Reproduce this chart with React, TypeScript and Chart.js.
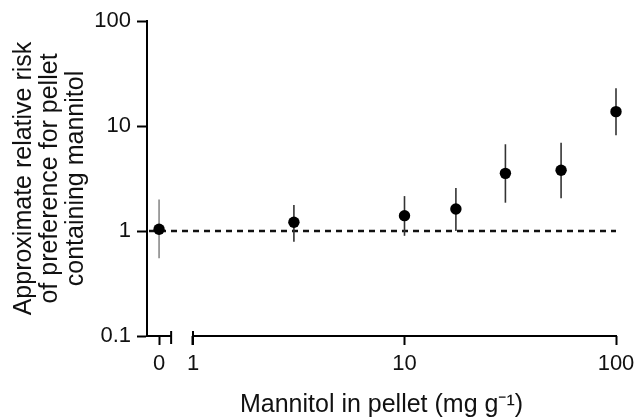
import React, { useEffect, useRef } from "react";
import { Chart, registerables } from "chart.js";

Chart.register(...registerables);

// ---- data ----
const ZERO_DOSE = [0];
const ZERO_RR = [1.04];
const ZERO_LOW = [0.55];
const ZERO_HIGH = [2.0];

const DOSES = [3, 10, 17.5, 30, 55, 100];
const RR = [1.21, 1.4, 1.62, 3.54, 3.79, 13.7];
const RR_LOW = [0.79, 0.9, 1.0, 1.86, 2.05, 8.15];
const RR_HIGH = [1.77, 2.15, 2.57, 6.7, 6.93, 22.9];

const Y_TICKS = [0.1, 1, 10, 100];
const X_TICKS = [1, 10, 100];
const X0_TICKS = [0];
const X0_SEGMENT_END = 1;
const REFERENCE_RR = 1;

const Y_TITLE = ["Approximate relative risk", "of preference for pellet", "containing mannitol"];
const X_TITLE = "Mannitol in pellet (mg g\u207B\u00B9)";

const FONT = "'Liberation Sans', Arial, Helvetica, sans-serif";
const INK = "#111";

const brokenAxisPlugin = {
  id: "brokenAxis",
  beforeDatasetsDraw(chart: any) {
    const { ctx, chartArea, scales } = chart;
    const x0 = scales.x0;
    const x = scales.x;
    const y = scales.y;
    const yb = chartArea.bottom;
    ctx.save();
    // reference dashed line at RR = 1
    const yr = y.getPixelForValue(REFERENCE_RR);
    ctx.strokeStyle = INK;
    ctx.lineWidth = 2.5;
    ctx.setLineDash([6, 5]);
    ctx.beginPath();
    ctx.moveTo(chartArea.left + 2, yr);
    ctx.lineTo(x.getPixelForValue(X_TICKS[X_TICKS.length - 1]), yr);
    ctx.stroke();
    ctx.setLineDash([]);

    // error bars
    ctx.lineWidth = 1.6;
    ctx.strokeStyle = "#8a8a8a";
    ZERO_DOSE.forEach((d, i) => {
      const px = x0.getPixelForValue(d);
      ctx.beginPath();
      ctx.moveTo(px, y.getPixelForValue(ZERO_LOW[i]));
      ctx.lineTo(px, y.getPixelForValue(ZERO_HIGH[i]));
      ctx.stroke();
    });
    ctx.strokeStyle = "#333";
    DOSES.forEach((d, i) => {
      const px = x.getPixelForValue(d);
      ctx.beginPath();
      ctx.moveTo(px, y.getPixelForValue(RR_LOW[i]));
      ctx.lineTo(px, y.getPixelForValue(RR_HIGH[i]));
      ctx.stroke();
    });

    // broken x axis segments
    ctx.strokeStyle = "#000";
    ctx.lineWidth = 2;
    const aEnd = x0.getPixelForValue(X0_SEGMENT_END);
    const bStart = x.getPixelForValue(X_TICKS[0]);
    const bEnd = x.getPixelForValue(X_TICKS[X_TICKS.length - 1]);
    ctx.beginPath();
    ctx.moveTo(chartArea.left, yb);
    ctx.lineTo(aEnd, yb);
    ctx.moveTo(aEnd, yb - 5);
    ctx.lineTo(aEnd, yb + 8);
    ctx.moveTo(bStart, yb);
    ctx.lineTo(bEnd + 1, yb);
    ctx.moveTo(bStart, yb - 5);
    ctx.lineTo(bStart, yb + 9);
    ctx.stroke();
    ctx.restore();
  },
};

const noSidePadding = (s: any) => {
  s.paddingLeft = 0;
  s.paddingRight = 0;
};

export default function App() {
  const ref = useRef<HTMLCanvasElement | null>(null);

  useEffect(() => {
    if (!ref.current) return;
    const tickFont = { family: FONT, size: 22 };
    const yTitleFont = { family: FONT, size: 25, lineHeight: 1.04 };
    const xTitleFont = { family: FONT, size: 25, lineHeight: 1.2 };
    const chart = new Chart(ref.current, {
      type: "scatter",
      data: {
        datasets: [
          {
            data: ZERO_DOSE.map((d, i) => ({ x: d, y: ZERO_RR[i] })),
            xAxisID: "x0",
            yAxisID: "y",
            backgroundColor: "#000",
            borderWidth: 0,
            pointRadius: 5.7,
            clip: false,
          } as any,
          {
            data: DOSES.map((d, i) => ({ x: d, y: RR[i] })),
            xAxisID: "x",
            yAxisID: "y",
            backgroundColor: "#000",
            borderWidth: 0,
            pointRadius: 5.7,
            clip: false,
          } as any,
        ],
      },
      options: {
        responsive: false,
        animation: false,
        devicePixelRatio: 1,
        layout: { padding: { top: 21, right: 20, left: 0, bottom: 0 } },
        plugins: { legend: { display: false }, tooltip: { enabled: false } },
        scales: {
          y: {
            type: "logarithmic",
            position: "left",
            min: 0.1,
            max: 100,
            afterBuildTicks: (s: any) => {
              s.ticks = Y_TICKS.map((v) => ({ value: v }));
            },
            afterFit: (s: any) => {
              s.width = 147;
              s.paddingTop = 0;
              s.paddingBottom = 0;
            },
            ticks: {
              font: tickFont,
              color: INK,
              padding: 6,
              callback: (v: any) => String(v),
            },
            grid: {
              drawOnChartArea: false,
              drawTicks: true,
              tickLength: 10,
              tickWidth: 2,
              tickColor: "#000",
            },
            border: { display: true, color: "#000", width: 2 },
            title: {
              display: true,
              text: Y_TITLE,
              font: yTitleFont,
              color: INK,
              padding: { top: 11, bottom: 0 },
            },
          },
          x0: {
            type: "linear",
            position: "bottom",
            stack: "xbroken",
            stackWeight: 35,
            min: -1,
            max: 1.9,
            afterBuildTicks: (s: any) => {
              s.ticks = X0_TICKS.map((v) => ({ value: v }));
            },
            afterFit: (s: any) => {
              s.height = 40;
              noSidePadding(s);
            },
            ticks: { font: tickFont, color: INK, padding: 6, callback: (v: any) => String(v) },
            grid: {
              drawOnChartArea: false,
              drawTicks: true,
              tickLength: 9,
              tickWidth: 2,
              tickColor: "#000",
            },
            border: { display: false },
          },
          x: {
            type: "logarithmic",
            position: "bottom",
            stack: "xbroken",
            stackWeight: 434,
            min: 0.8872,
            max: 100,
            afterBuildTicks: (s: any) => {
              s.ticks = X_TICKS.map((v) => ({ value: v }));
            },
            afterFit: (s: any) => {
              s.height = 40;
              noSidePadding(s);
            },
            ticks: { font: tickFont, color: INK, padding: 6, callback: (v: any) => String(v) },
            grid: {
              drawOnChartArea: false,
              drawTicks: true,
              tickLength: 9,
              tickWidth: 2,
              tickColor: "#000",
            },
            border: { display: false },
          },
          xt: {
            type: "linear",
            position: "bottom",
            weight: 1,
            ticks: { display: false },
            grid: { display: false, drawTicks: false },
            border: { display: false },
            afterFit: (s: any) => {
              s.height = 44;
              noSidePadding(s);
            },
            title: {
              display: true,
              text: X_TITLE,
              font: xTitleFont,
              color: INK,
              padding: { top: 0, bottom: 0 },
            },
          },
        },
      } as any,
      plugins: [brokenAxisPlugin],
    });
    return () => chart.destroy();
  }, []);

  return (
    <div style={{ position: "fixed", left: 0, top: 0, width: 636, height: 420, background: "#fff" }}>
      <canvas ref={ref} width={636} height={420} style={{ display: "block" }} />
    </div>
  );
}
